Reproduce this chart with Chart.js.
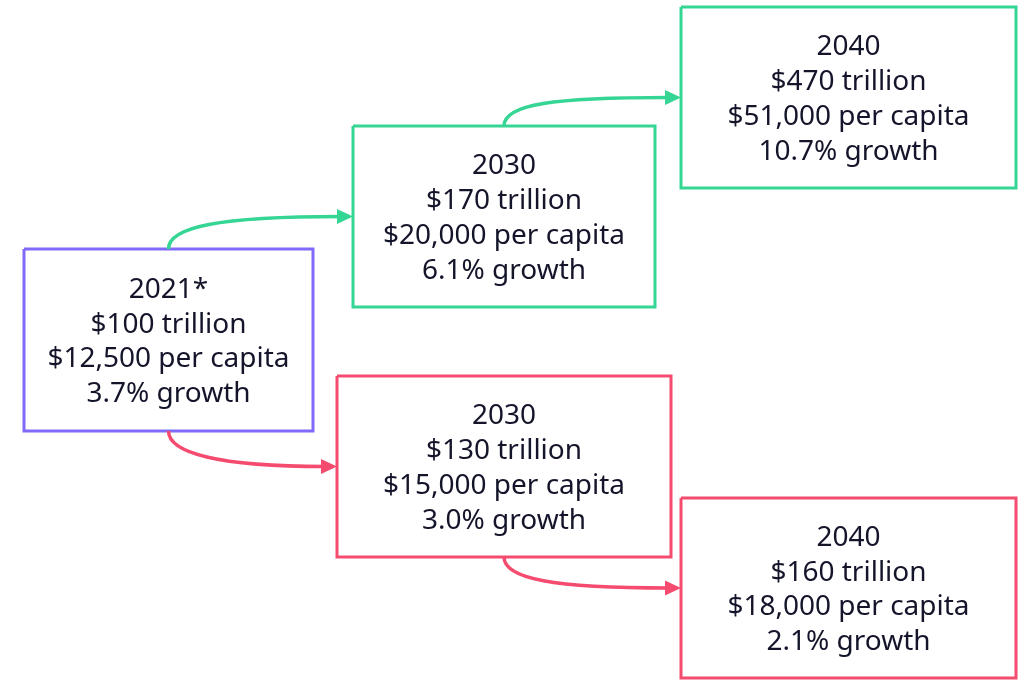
<!DOCTYPE html>
<html>
<head>
<meta charset="utf-8">
<script src="https://cdn.jsdelivr.net/npm/chart.js@4/dist/chart.umd.min.js"></script>
<style>
  body { margin: 0; background: #ffffff; }
  #wrap { width: 1025px; height: 680px; }
</style>
</head>
<body>
<div id="wrap"><canvas id="flow_chart" width="1025" height="680"></canvas></div>
<script>
// scenario values
const years       = ['2021*', '2030', '2040', '2030', '2040'];
const gdpTrillion = [100, 170, 470, 130, 160];
const perCapita   = [12500, 20000, 51000, 15000, 18000];
const growthPct   = [3.7, 6.1, 10.7, 3.0, 2.1];
const scenario    = ['base', 'high', 'high', 'low', 'low'];
// links between boxes: [from, to]
const links       = [[0, 1], [1, 2], [0, 3], [3, 4]];

// layout, in axis units (x 0..1025, y 0..680 top-down)
const boxes = [
    [24, 249, 313, 431],
    [353, 126, 655, 307],
    [681, 7, 1016, 188],
    [337, 376, 671, 557],
    [681, 498, 1016, 678]
];
const colors = { base: '#7f6bf8', high: '#35d594', low: '#f44b6e' };
const textColor = '#14142b';

function box_lines(i) {
    return [
        years[i],
        '$' + gdpTrillion[i] + ' trillion',
        '$' + perCapita[i].toLocaleString('en-US') + ' per capita',
        growthPct[i].toFixed(1) + '% growth'
    ];
}

// box outlines as closed line datasets
let datasets = boxes.map((b, i) => ({
    data: [
        {x: b[0], y: b[1]}, {x: b[2], y: b[1]},
        {x: b[2], y: b[3]}, {x: b[0], y: b[3]}, {x: b[0], y: b[1]}
    ],
    borderColor: colors[scenario[i]],
    borderWidth: 3,
    pointRadius: 0,
    showLine: true,
    fill: false,
    borderJoinStyle: 'miter'
}));

const flowPlugin = {
    id: 'flow',
    afterDatasetsDraw(chart) {
        const ctx = chart.ctx;
        const xs = chart.scales.x, ys = chart.scales.y;
        const px = v => xs.getPixelForValue(v);
        const py = v => ys.getPixelForValue(v);

        // arrows: from middle of source edge to middle of target's left side
        links.forEach(([a, b]) => {
            const src = boxes[a], dst = boxes[b];
            const color = colors[scenario[b]];
            const up = dst[1] < src[1];
            const sx = px(src[0] + (src[2] - src[0]) * 0.5);
            const sy = py(up ? src[1] : src[3]);
            const ex = px(dst[0]);
            const ey = py((dst[1] + dst[3]) / 2);
            const tip = 12;
            ctx.save();
            ctx.strokeStyle = color;
            ctx.fillStyle = color;
            ctx.lineWidth = 3.5;
            ctx.beginPath();
            ctx.moveTo(sx, sy);
            ctx.bezierCurveTo(sx, sy + (up ? -22 : 22), sx + 50, ey, ex - tip, ey);
            ctx.stroke();
            ctx.beginPath();
            ctx.moveTo(ex, ey);
            ctx.lineTo(ex - tip - 4, ey - 7.5);
            ctx.lineTo(ex - tip - 4, ey + 7.5);
            ctx.closePath();
            ctx.fill();
            ctx.restore();
        });

        // box texts
        ctx.save();
        ctx.fillStyle = textColor;
        ctx.textAlign = 'center';
        ctx.textBaseline = 'middle';
        ctx.font = '28px "Noto Sans", sans-serif';
        boxes.forEach((b, i) => {
            const cx = px((b[0] + b[2]) / 2);
            const cy = py((b[1] + b[3]) / 2);
            const lines = box_lines(i);
            const lh = 34.7;
            lines.forEach((t, k) => {
                ctx.fillText(t, cx, cy + (k - 1.5) * lh + 2);
            });
        });
        ctx.restore();
    }
};

const config = {
    type: 'scatter',
    data: { datasets: datasets },
    options: {
        responsive: false,
        animation: false,
        layout: { padding: 0 },
        plugins: {
            legend: { display: false },
            tooltip: { enabled: false }
        },
        scales: {
            x: { type: 'linear', min: 0, max: 1025, display: false },
            y: { type: 'linear', min: 0, max: 680, reverse: true, display: false }
        }
    },
    plugins: [flowPlugin]
};

let chart = new Chart(document.getElementById('flow_chart'), config);
</script>
</body>
</html>
